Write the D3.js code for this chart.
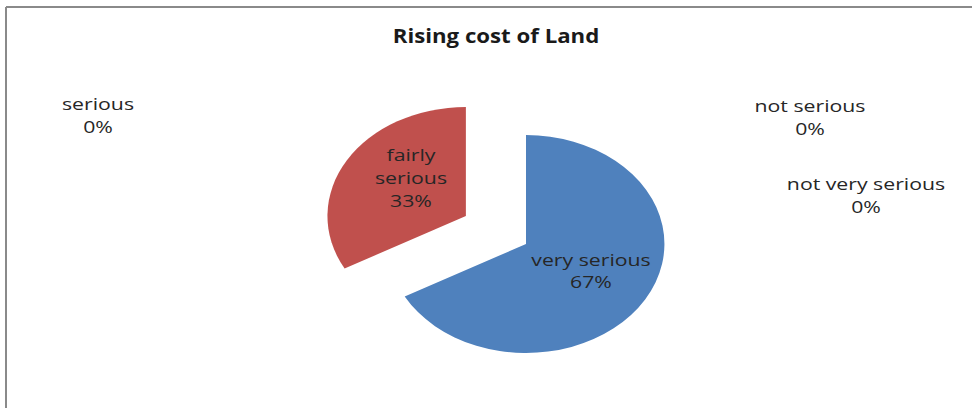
<!DOCTYPE html>
<html><head><meta charset="utf-8">
<script src="https://cdn.jsdelivr.net/npm/d3@7"></script>
<style>body{margin:0;background:#fff}svg{display:block}</style>
</head><body>
<svg id="c" width="972" height="408"></svg>
<script>
const title = "Rising cost of Land";
const categories = ["very serious", "fairly serious", "serious", "not very serious", "not serious"];
const values = [67, 33, 0, 0, 0];
const colors = ["#4F81BD", "#C0504D", "#9BBB59", "#8064A2", "#4BACC6"];

const W = 972, H = 408;
const svg = d3.select("#c");
const sx = 1.27; // horizontal stretch of the picture
const cx = 526, cy = 244, r = 109, explode = 55;
const fontFam = "'Open Sans', 'DejaVu Sans', sans-serif";

// frame
svg.append("line").attr("x1", 6).attr("y1", 7).attr("x2", W).attr("y2", 7).attr("stroke", "#8a8a8a").attr("stroke-width", 2);
svg.append("line").attr("x1", 6).attr("y1", 7).attr("x2", 6).attr("y2", H).attr("stroke", "#8a8a8a").attr("stroke-width", 2);

svg.append("text").attr("text-anchor", "middle")
  .attr("transform", "translate(496,43) scale(1.17,1)")
  .attr("font-family", fontFam).attr("font-weight", "bold").attr("font-size", 19)
  .attr("fill", "#1a1a1a").text(title);

const data = categories.map((c, i) => ({cat: c, value: values[i], color: colors[i]}));
const pie = d3.pie().sort(null).value(d => d.value).startAngle(0).endAngle(2 * Math.PI);
const arcs = pie(data);
const arc = d3.arc().innerRadius(0).outerRadius(r);
const total = d3.sum(values);

const g = svg.append("g").attr("transform", `translate(${cx},${cy}) scale(${sx},1)`);
g.selectAll("path").data(arcs.filter(a => a.data.value > 0)).join("path")
  .attr("d", arc).attr("fill", d => d.data.color)
  .attr("transform", d => {
    if (d.index === 1) {
      const m = (d.startAngle + d.endAngle) / 2;
      return `translate(${Math.sin(m) * explode},${-Math.cos(m) * explode})`;
    }
    return null;
  });

// label positions (pixel layout, separate from data)
const labelPos = {
  "very serious": [591, 266, 22],
  "fairly serious": [411, 161, 23],
  "serious": [98, 110, 23.5],
  "not very serious": [866, 190, 23],
  "not serious": [810, 112, 23]
};
arcs.forEach(a => {
  const [lx, ly, lh] = labelPos[a.data.cat];
  const pct = Math.round(a.data.value / total * 100) + "%";
  const lines = a.data.cat === "fairly serious" ? ["fairly", "serious", pct] : [a.data.cat, pct];
  const t = svg.append("text").attr("text-anchor", "middle")
    .attr("font-family", fontFam).attr("font-size", 17).attr("fill", "#262626")
    .attr("transform", `translate(${lx},${ly}) scale(1.25,1)`);
  lines.forEach((s, i) => t.append("tspan").attr("x", 0).attr("y", i * lh).text(s));
});
</script>
</body></html>
